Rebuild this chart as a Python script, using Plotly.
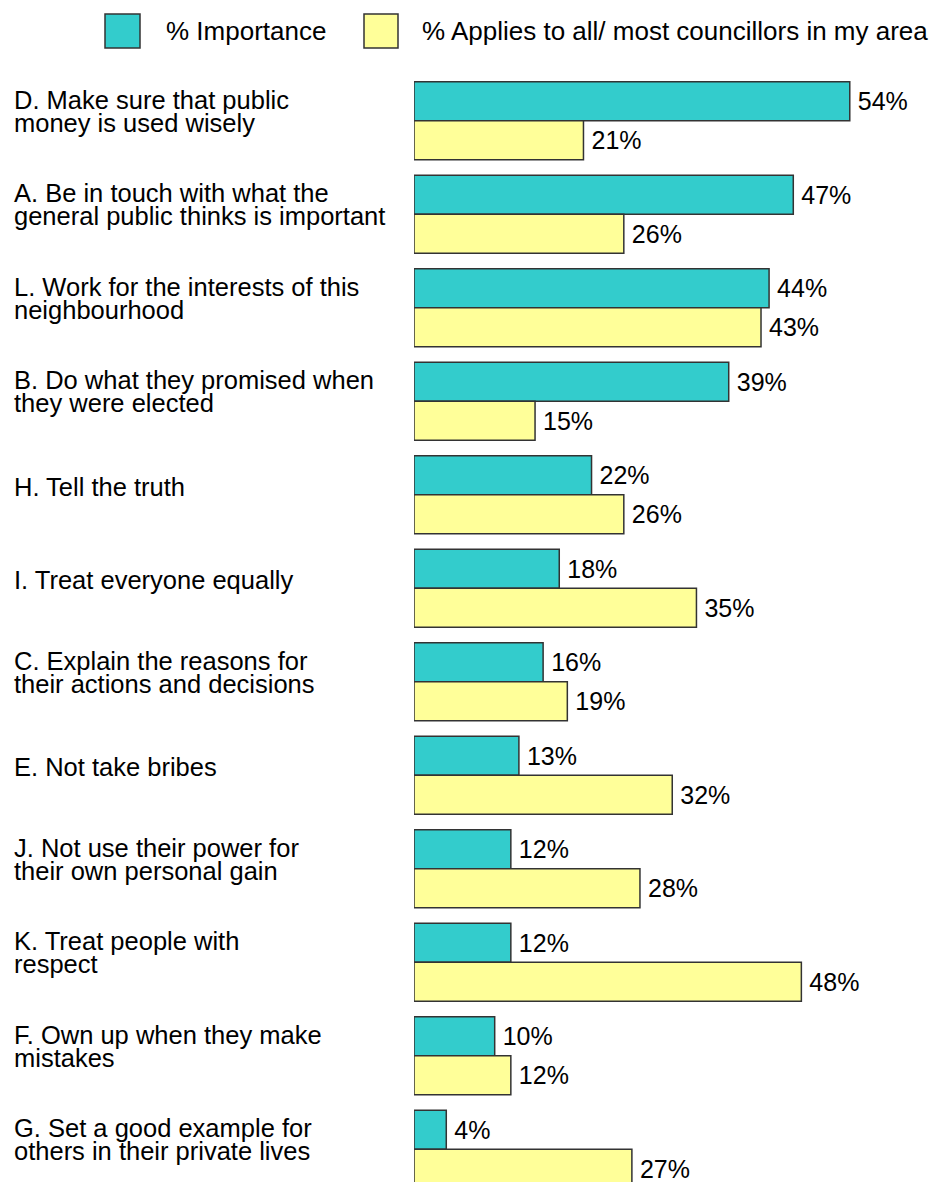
import plotly.graph_objects as go

# Survey items (top to bottom) and their two measures, in percent
codes = ["D", "A", "L", "B", "H", "I", "C", "E", "J", "K", "F", "G"]
labels = [
    "D. Make sure that public\nmoney is used wisely",
    "A. Be in touch with what the\ngeneral public thinks is important",
    "L. Work for the interests of this\nneighbourhood",
    "B. Do what they promised when\nthey were elected",
    "H. Tell the truth",
    "I. Treat everyone equally",
    "C. Explain the reasons for\ntheir actions and decisions",
    "E. Not take bribes",
    "J. Not use their power for\ntheir own personal gain",
    "K. Treat people with\nrespect",
    "F. Own up when they make\nmistakes",
    "G. Set a good example for\nothers in their private lives",
]
importance = [54, 47, 44, 39, 22, 18, 16, 13, 12, 12, 10, 4]
applies = [21, 26, 43, 15, 26, 35, 19, 32, 28, 48, 12, 27]
series_names = ["% Importance", "% Applies to all/ most councillors in my area"]

TEAL = "#33CCCC"
YELLOW = "#FFFF99"
EDGE = "#333333"
FONT = "Liberation Sans, Arial, sans-serif"

W, H = 934, 1182
ML, MR, MT, MB = 414, 0, 60, 0
PW, PH = W - ML - MR, H - MT - MB
PX_PER_PCT = 8.07


def px_x(px):
    return (px - ML) / PW


def px_y(py):
    return (H - MB - py) / PH


fig = go.Figure()
for name, vals, color in [(series_names[0], importance, TEAL),
                          (series_names[1], applies, YELLOW)]:
    fig.add_trace(go.Bar(
        name=name,
        y=codes,
        x=vals,
        orientation="h",
        marker=dict(color=color, line=dict(color=EDGE, width=1.5)),
        texttemplate="\u2009%{x}%",
        textposition="outside",
        textfont=dict(size=25, color="black", family=FONT),
        constraintext="none",
        cliponaxis=False,
        showlegend=False,
    ))

# Category labels, one annotation per text line
annotations = []
for code, label in zip(codes, labels):
    lines = label.split("\n")
    shifts = [8] if len(lines) == 1 else [21, -2]
    for line, shift in zip(lines, shifts):
        annotations.append(dict(
            x=px_x(12), xref="paper", xanchor="left",
            y=code, yref="y", yanchor="middle", yshift=shift,
            text=line, showarrow=False,
            font=dict(size=25.5, color="black", family=FONT),
        ))

# Legend drawn as boxes plus text at the top
shapes = []
legend_items = [(105, 140, TEAL, 164, series_names[0]),
                (364, 398, YELLOW, 420, series_names[1])]
for x0, x1, color, tx, text in legend_items:
    shapes.append(dict(
        type="rect", xref="paper", yref="paper",
        x0=px_x(x0), x1=px_x(x1), y0=px_y(48), y1=px_y(14),
        fillcolor=color, line=dict(color=EDGE, width=1.5),
    ))
    annotations.append(dict(
        x=px_x(tx), xref="paper", xanchor="left",
        y=px_y(31), yref="paper", yanchor="middle",
        text=text, showarrow=False,
        font=dict(size=26, color="black", family=FONT),
    ))

fig.update_layout(
    width=W, height=H,
    margin=dict(l=ML, r=MR, t=MT, b=MB, pad=0),
    barmode="group",
    bargap=0.166,
    bargroupgap=0,
    paper_bgcolor="white",
    plot_bgcolor="white",
    font=dict(family=FONT, size=25, color="black"),
    annotations=annotations,
    shapes=shapes,
    xaxis=dict(range=[0, PW / PX_PER_PCT], visible=False, fixedrange=True),
    yaxis=dict(type="category", categoryorder="array", categoryarray=codes,
               range=[11.351, -0.649], visible=False, fixedrange=True),
)

fig.write_html("out.html", config={"displayModeBar": False})
